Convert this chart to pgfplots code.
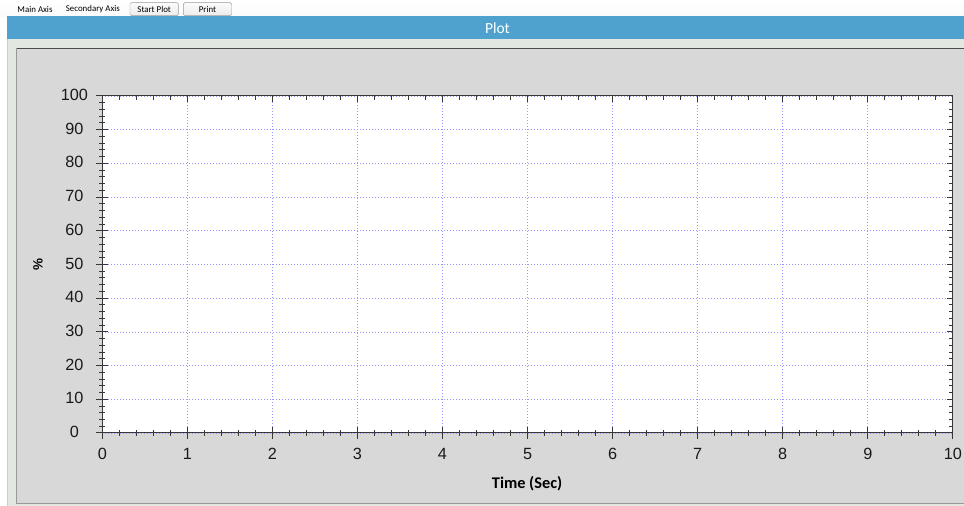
\documentclass[border=0pt]{standalone}
\usepackage{pgfplots}
\pgfplotsset{compat=1.18}
\usepackage{fontspec}
\setmainfont{Liberation Sans}
\newfontfamily\uifont{Carlito}
\definecolor{panel}{RGB}{216,216,216}
\definecolor{strip}{RGB}{226,231,226}
\definecolor{hdr}{RGB}{78,162,205}
\definecolor{gridblue}{RGB}{150,150,255}
\definecolor{axisgray}{RGB}{55,55,55}
\begin{document}
\begin{tikzpicture}[x=1bp,y=1bp]
\useasboundingbox (0,0) rectangle (964,506);
\fill[white] (0,0) rectangle (964,506);
% toolbar
\fill[top color=white,bottom color=white!96!gray] (0,489.5) rectangle (964,506);
\node[font=\uifont\fontsize{8.9}{10}\selectfont, anchor=west, inner sep=0pt] at (17.3,496.5) {Main Axis};
\node[font=\uifont\fontsize{8.9}{10}\selectfont, anchor=west, inner sep=0pt] at (65.7,496.5) {Secondary Axis};
\draw[rounded corners=1.5bp, draw=gray!80, top color=white!97!gray, bottom color=white!85!gray] (130,490.3) rectangle (178.3,503.3);
\node[font=\uifont\fontsize{8.9}{10}\selectfont, inner sep=0pt] at (154.2,496.5) {Start Plot};
\draw[rounded corners=1.5bp, draw=gray!80, top color=white!97!gray, bottom color=white!85!gray] (183.3,490.3) rectangle (231.7,503.3);
\node[font=\uifont\fontsize{8.9}{10}\selectfont, inner sep=0pt] at (207.5,496.5) {Print};
% header
\fill[hdr] (7,467) rectangle (964,489.5);
\node[text=white, font=\uifont\fontsize{15.5}{17}\selectfont, inner sep=0pt] at (497.5,477.5) {Plot};
% panel
\fill[strip] (7,0) rectangle (964,467);
\draw[gray!40, line width=0.8bp] (7,0) -- (7,467);
\fill[panel] (16.5,2) rectangle (964,457.5);
\draw[gray!60!black, line width=1.2bp] (16.5,457.5) -- (964,457.5);
\draw[gray!80, line width=1bp] (16.5,2) -- (16.5,457.5);
\draw[gray!80, line width=1bp] (16.5,2) -- (964,2);
\coordinate (SW) at (102.3,73);
\begin{axis}[
  at={(SW)}, anchor=south west,
  scale only axis, width=850.5bp, height=337bp,
  xmin=0, xmax=10, ymin=0, ymax=100,
  xtick={0,1,...,10}, ytick={0,10,...,100},
  minor x tick num=4, minor y tick num=4,
  xtick pos=bottom, ytick pos=left,
  tick align=center,
  major tick length=12bp, minor tick length=6bp,
  axis background/.style={fill=white},
  axis line style={axisgray, line width=1bp},
  every tick/.style={axisgray, line width=1bp},
  grid=major,
  major grid style={gridblue, line width=0.7bp, dash pattern=on 1bp off 2bp},
  /pgf/number format/assume math mode=true,
  tick label style={font=\fontsize{16.3}{18}\selectfont, inner sep=0pt, text=black!90},
  xticklabel style={anchor=center, yshift=-15bp},
  yticklabel style={anchor=center, xshift=-22bp, yshift=1bp},
  xlabel={Time (Sec)},
  xlabel style={at={(axis description cs:0.4994,-0.15)}, anchor=center, inner sep=0pt, font=\uifont\bfseries\fontsize{16.4}{18}\selectfont},
  ylabel={\%},
  ylabel style={at={(axis description cs:-0.0756,0.499)}, anchor=center, inner sep=0pt, font=\bfseries\fontsize{13.5}{15}\selectfont},
]
\addplot[draw=none, forget plot] coordinates {(0,0) (10,100)};
\end{axis}
\begin{axis}[
  at={(SW)}, anchor=south west,
  scale only axis, width=850.5bp, height=337bp,
  xmin=0, xmax=10, ymin=0, ymax=100,
  xtick={0,1,...,10}, ytick={0,10,...,100},
  minor x tick num=4, minor y tick num=4,
  xtick pos=top, ytick pos=right,
  tick align=inside,
  major tick length=6bp, minor tick length=4bp,
  axis line style={axisgray, line width=1bp},
  every tick/.style={axisgray, line width=1bp},
  xticklabels={}, yticklabels={},
]
\addplot[draw=none, forget plot] coordinates {(0,0) (10,100)};
\end{axis}
\end{tikzpicture}
\end{document}
